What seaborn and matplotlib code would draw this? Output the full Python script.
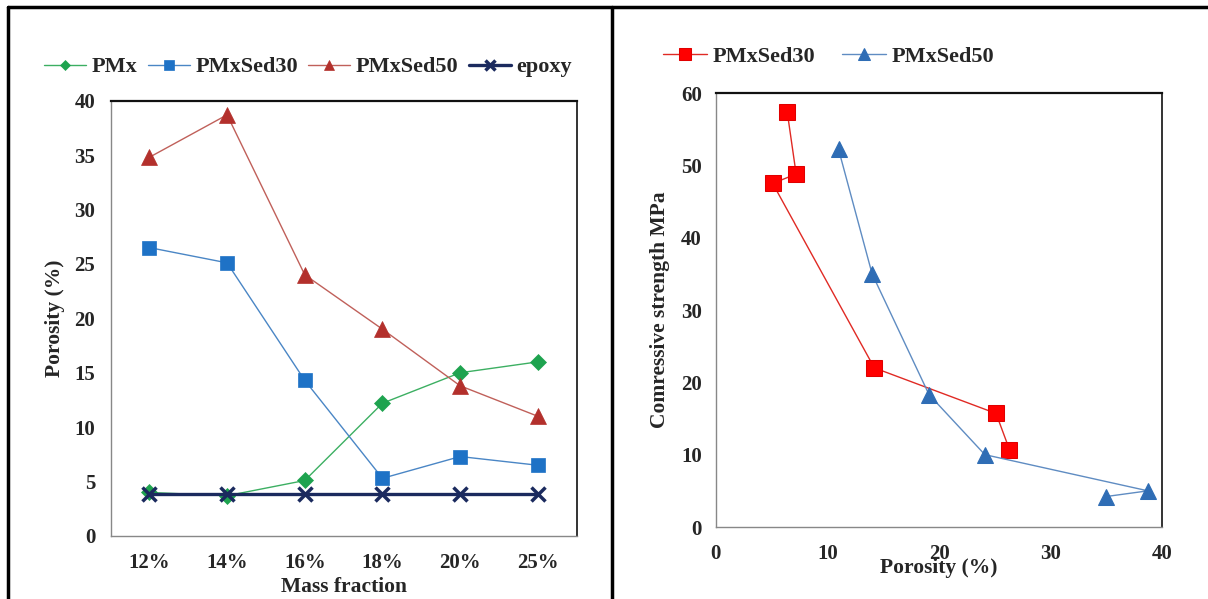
import numpy as np
import pandas as pd
import seaborn as sns
import matplotlib.pyplot as plt
from matplotlib.lines import Line2D
from matplotlib.ticker import MultipleLocator, FixedLocator

# Left chart: porosity against mass fraction
mass_fraction = ['12%', '14%', '16%', '18%', '20%', '25%']
pmx = [4.0, 3.7, 5.1, 12.2, 15.0, 16.0]
pmxsed30 = [26.5, 25.1, 14.3, 5.3, 7.3, 6.5]
pmxsed50 = [34.8, 38.7, 24.0, 19.0, 13.8, 11.0]
epoxy = [3.9, 3.9, 3.9, 3.9, 3.9, 3.9]

# Right chart: compressive strength against porosity (points in drawing order)
sed30_porosity = [6.4, 7.2, 5.1, 14.2, 25.1, 26.3]
sed30_strength = [57.4, 48.8, 47.5, 22.0, 15.7, 10.7]
sed50_porosity = [11.0, 14.0, 19.1, 24.1, 38.7, 34.9]
sed50_strength = [52.2, 35.0, 18.3, 10.0, 5.0, 4.2]

sns.set_style('white')
plt.rcParams['font.family'] = ['Liberation Serif', 'DejaVu Serif']
plt.rcParams['font.weight'] = 'bold'
plt.rcParams['axes.labelweight'] = 'bold'

TICK_FS = 15
LABEL_FS = 15.5
LEGEND_FS = 16

fig = plt.figure(figsize=(12.08, 5.99), dpi=100)
ax1 = fig.add_axes([0.0915, 0.1052, 0.3859, 0.7267])
ax2 = fig.add_axes([0.5925, 0.1202, 0.3698, 0.7245])

# ---- left chart ----
df_left = pd.DataFrame({'pos': np.arange(len(mass_fraction)), 'PMx': pmx,
                        'PMxSed30': pmxsed30, 'PMxSed50': pmxsed50, 'epoxy': epoxy})
left_styles = [
    ('PMx', '#3CAF62', '#1EA34F', 'D', 8, 1.0),
    ('PMxSed30', '#4A86C5', '#1E72C6', 's', 10, 1.0),
    ('PMxSed50', '#C0605A', '#B3302C', '^', 11, 1.0),
    ('epoxy', '#1B2A5E', '#1B2A5E', 'x', 10, 2.4),
]
for name, lc, mc, mk, ms, lw in left_styles:
    sns.lineplot(data=df_left, x='pos', y=name, ax=ax1, color=lc, lw=lw,
                 marker=mk, markersize=ms, markerfacecolor=mc, markeredgecolor=mc,
                 markeredgewidth=2.5 if mk == 'x' else 0.5, label=name, legend=False)

ax1.set_xlim(-0.5, len(mass_fraction) - 0.5)
ax1.set_ylim(0, 40)
ax1.xaxis.set_major_locator(FixedLocator(np.arange(-0.5, len(mass_fraction), 1.0)))
ax1.set_xticklabels([])
ax1.xaxis.set_minor_locator(FixedLocator(np.arange(len(mass_fraction))))
ax1.set_xticklabels(mass_fraction, minor=True)
ax1.tick_params(axis='x', which='major', direction='out', length=4, width=1, color='#777777')
ax1.tick_params(axis='x', which='minor', length=0, pad=12, labelsize=TICK_FS)
ax1.yaxis.set_major_locator(MultipleLocator(5))
ax1.yaxis.set_minor_locator(MultipleLocator(1))
ax1.tick_params(axis='y', which='major', direction='out', length=8, width=1,
                color='#777777', labelsize=TICK_FS, pad=3)
ax1.tick_params(axis='y', which='minor', direction='in', length=4, width=0.8, color='#999999')
ax1.set_xlabel('Mass fraction', fontsize=LABEL_FS, labelpad=3)
ax1.set_ylabel('Porosity (%)', fontsize=LABEL_FS, labelpad=7)
for tl in ax1.get_xticklabels(minor=True) + ax1.get_yticklabels():
    tl.set_fontweight('bold')

# ---- right chart ----
df_30 = pd.DataFrame({'porosity': sed30_porosity, 'strength': sed30_strength})
df_50 = pd.DataFrame({'porosity': sed50_porosity, 'strength': sed50_strength})
sns.lineplot(data=df_30, x='porosity', y='strength', sort=False, ax=ax2, color='#E02A24', lw=1.0,
             marker='s', markersize=11, markerfacecolor='#FF0000', markeredgecolor='#E00000',
             label='PMxSed30', legend=False)
sns.lineplot(data=df_50, x='porosity', y='strength', sort=False, ax=ax2, color='#5F8CC2', lw=1.0,
             marker='^', markersize=11, markerfacecolor='#2F6DB5', markeredgecolor='#2F6DB5',
             label='PMxSed50', legend=False)
ax2.set_xlim(0, 40)
ax2.set_ylim(0, 60)
ax2.xaxis.set_major_locator(MultipleLocator(10))
ax2.yaxis.set_major_locator(MultipleLocator(10))
ax2.yaxis.set_minor_locator(MultipleLocator(2))
ax2.tick_params(axis='x', which='major', direction='out', length=5, width=1,
                color='#777777', labelsize=TICK_FS, pad=7)
ax2.tick_params(axis='y', which='major', direction='out', length=7, width=1,
                color='#777777', labelsize=TICK_FS, pad=3)
ax2.tick_params(axis='y', which='minor', direction='in', length=4, width=0.8, color='#999999')
ax2.set_xlabel('Porosity (%)', fontsize=LABEL_FS, labelpad=-4)
ax2.set_ylabel('Comressive strength MPa', fontsize=LABEL_FS, labelpad=8)
for tl in ax2.get_xticklabels() + ax2.get_yticklabels():
    tl.set_fontweight('bold')

for ax in (ax1, ax2):
    ax.spines['left'].set_color('#888888')
    ax.spines['bottom'].set_color('#888888')
    ax.spines['left'].set_linewidth(1.0)
    ax.spines['bottom'].set_linewidth(1.0)
    ax.spines['top'].set_color('#111111')
    ax.spines['right'].set_color('#111111')
    ax.spines['top'].set_linewidth(1.6)
    ax.spines['right'].set_linewidth(1.2)

# legends
legend_font = {'family': 'Liberation Serif', 'weight': 'bold', 'size': LEGEND_FS}
h1, l1 = ax1.get_legend_handles_labels()
fig.legend(h1, l1, loc='center', bbox_to_anchor=(0.255, 0.888), ncol=4, frameon=False,
           prop=legend_font, handlelength=1.9, handletextpad=0.25, columnspacing=0.45,
           markerscale=0.7)
h2, l2 = ax2.get_legend_handles_labels()
fig.legend(h2, l2, loc='center', bbox_to_anchor=(0.686, 0.905), ncol=2, frameon=False,
           prop=legend_font, handlelength=2.0, handletextpad=0.25, columnspacing=1.2,
           markerscale=0.8)

# table borders around the two panels
fig.add_artist(Line2D([0.007, 1.0], [0.989, 0.989], color='black', lw=2.5))
fig.add_artist(Line2D([0.007, 0.007], [0.0, 0.989], color='black', lw=2.5))
fig.add_artist(Line2D([0.507, 0.507], [0.0, 0.989], color='black', lw=2.5))

fig.savefig('out.png', dpi=100)
